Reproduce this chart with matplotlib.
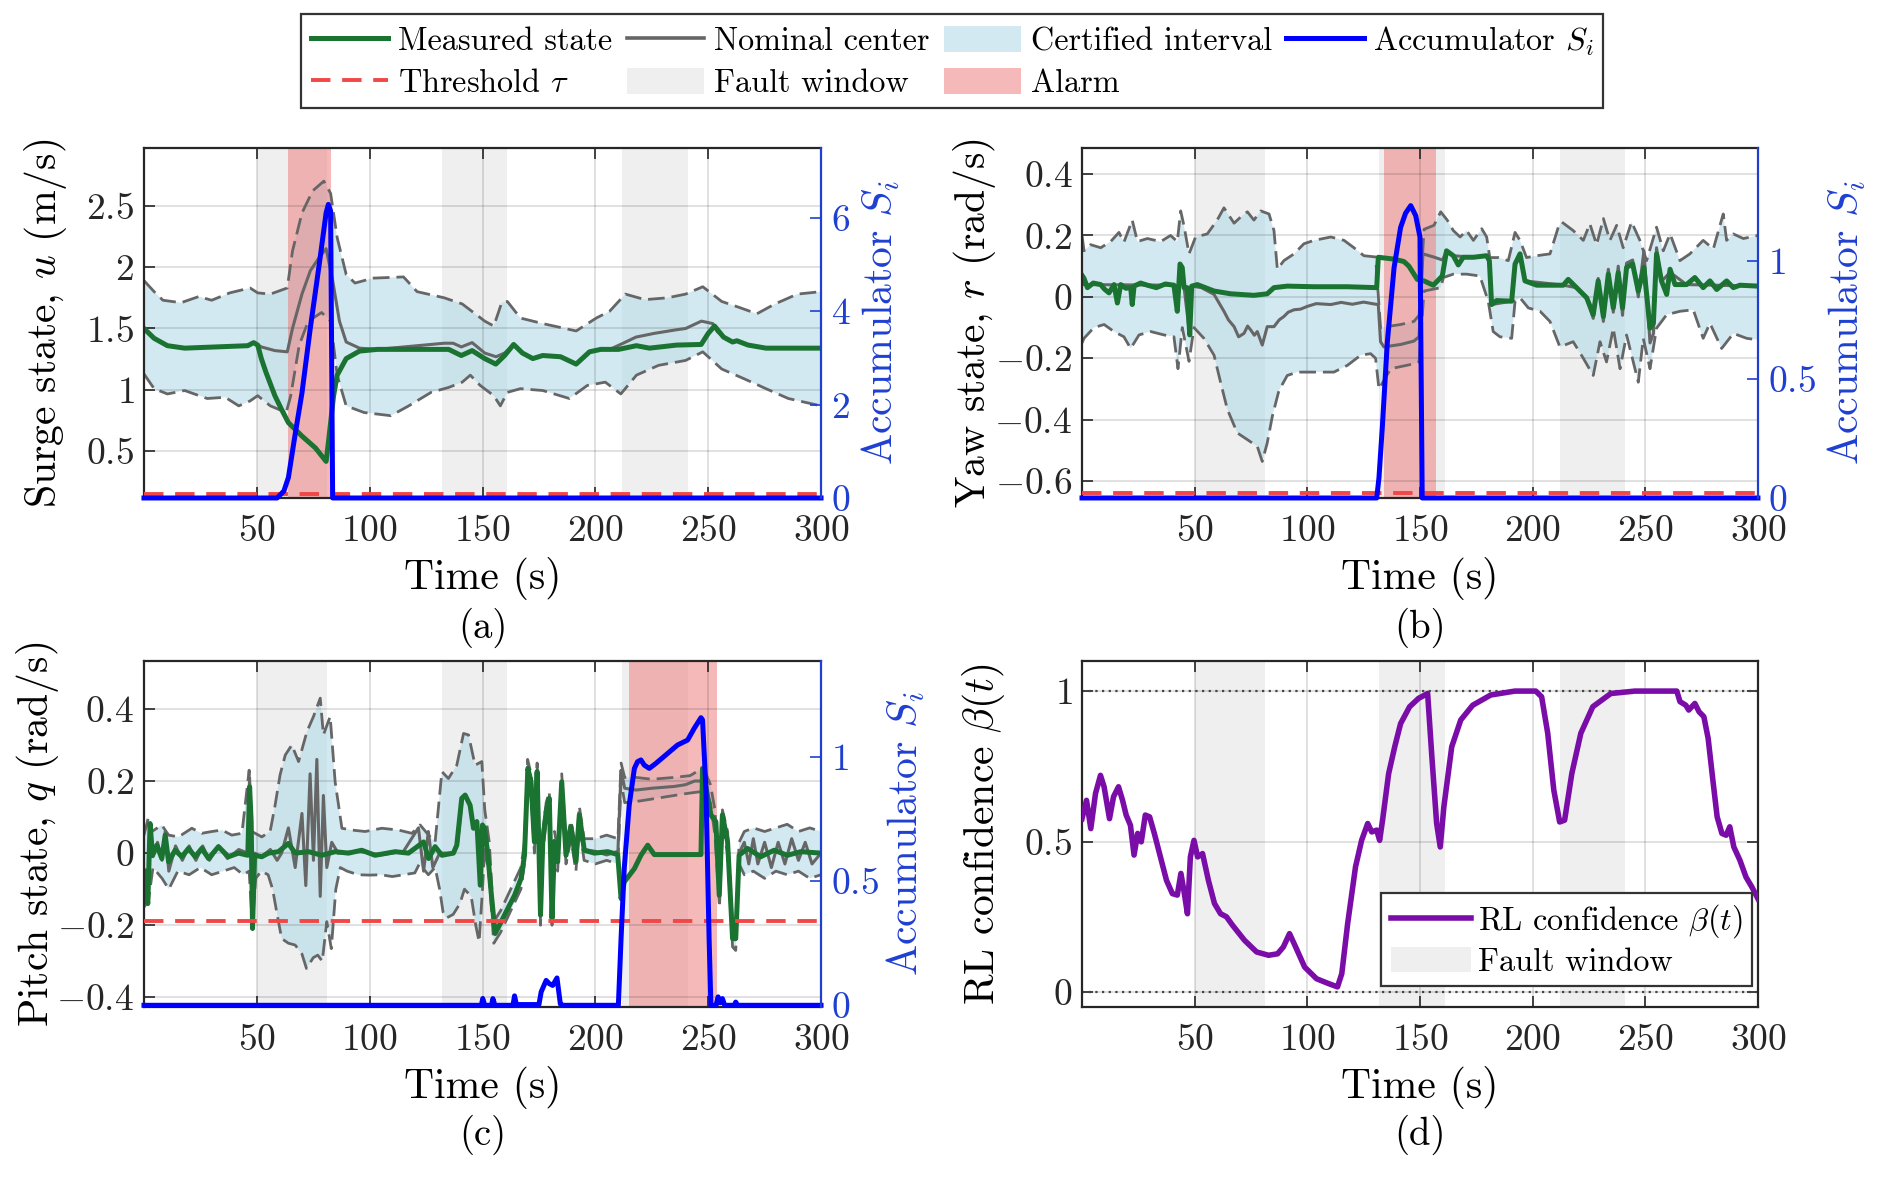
import numpy as np
import matplotlib
matplotlib.use("Agg")
import matplotlib.pyplot as plt
from matplotlib.ticker import FuncFormatter
from matplotlib.lines import Line2D
from matplotlib.patches import Patch

plt.rcParams["font.family"] = "serif"
plt.rcParams["font.serif"] = ["cmr10", "DejaVu Serif"]
plt.rcParams["mathtext.fontset"] = "cm"
plt.rcParams["axes.formatter.use_mathtext"] = True

# ---------------- data ----------------
fault_windows = [(50, 81), (132, 161), (212, 241)]
alarm_u = (64, 83)
alarm_r = (134, 157)
alarm_q = (215, 254)
tau = [0.09, 0.02, 0.34]   # threshold, accumulator units (a), (b), (c)

# (a) surge
t_u = [0, 4.5, 10.4, 18, 46, 48.6, 50.4, 52, 54, 58, 60.9, 64, 70, 76, 80.7, 81.7, 84, 85.6, 89.6, 95.5,
       103.4, 135, 140.6, 145.4, 151, 155.9, 159.8, 163.8, 167.7, 172.3, 176.7, 184.6, 191.5, 197.4, 202.4,
       210.3, 218.2, 224, 236, 246.9, 250, 252.8, 256.8, 260.8, 262.7, 267.7, 275.6, 300]
u_meas = [1.50, 1.42, 1.36, 1.34, 1.36, 1.385, 1.365, 1.255, 1.146, 0.953, 0.843, 0.733, 0.624, 0.527, 0.418,
          0.57, 0.95, 1.12, 1.255, 1.316, 1.33, 1.33, 1.28, 1.32, 1.255, 1.21, 1.28, 1.37, 1.30, 1.255, 1.28,
          1.27, 1.21, 1.31, 1.33, 1.33, 1.36, 1.34, 1.365, 1.37, 1.46, 1.52, 1.43, 1.39, 1.40, 1.365, 1.34, 1.34]
t_u_nom = [0, 4.5, 10.4, 18, 46, 48.6, 52, 58, 63.5, 65.8, 70, 73.7, 77.7, 80.7, 83.6, 86.6, 89.6, 95.5, 103.4,
           133, 137, 140.6, 145.4, 151, 156, 159.8, 163.8, 167.7, 172.3, 176.7, 184.6, 191.5, 197.4, 202.4,
           207, 212.3, 218, 226, 236, 240, 247, 252, 254, 256.8, 260.8, 262.7, 267.7, 275.6, 300]
u_nom = [1.50, 1.42, 1.36, 1.34, 1.36, 1.385, 1.35, 1.32, 1.31, 1.50, 1.78, 1.97, 2.08, 2.15, 1.89, 1.56, 1.39,
         1.34, 1.33, 1.38, 1.38, 1.35, 1.385, 1.30, 1.27, 1.30, 1.37, 1.30, 1.255, 1.28, 1.27, 1.21, 1.31, 1.33,
         1.335, 1.38, 1.43, 1.46, 1.49, 1.50, 1.56, 1.54, 1.475, 1.43, 1.39, 1.40, 1.365, 1.34, 1.34]
t_u_hi = [0, 4.5, 8.4, 16.4, 24.3, 30, 38, 47, 50.4, 56, 62, 63.5, 65.8, 70, 74.7, 79.7, 82.7, 85.6, 89.6, 93.5,
          101.5, 115, 121, 133, 141, 151, 155, 158.5, 161, 166.8, 176.7, 186.6, 191.5, 200.4, 206.3, 213.3, 222,
          232, 240, 247.6, 256, 264, 271.6, 279.6, 289.5, 300]
u_hi = [1.89, 1.80, 1.73, 1.71, 1.76, 1.73, 1.79, 1.83, 1.79, 1.78, 1.82, 1.83, 2.13, 2.44, 2.62, 2.70, 2.60,
        2.24, 1.94, 1.87, 1.91, 1.92, 1.80, 1.75, 1.70, 1.56, 1.52, 1.71, 1.72, 1.585, 1.54, 1.50, 1.48, 1.585,
        1.64, 1.78, 1.735, 1.75, 1.78, 1.84, 1.72, 1.67, 1.62, 1.70, 1.78, 1.80]
t_u_lo = [0, 4.5, 10.4, 18, 28, 36, 42, 47, 50.4, 56, 63, 65, 68.8, 72.8, 78.7, 82.7, 85.6, 89.6, 97.5, 109.4,
          117.3, 127.2, 135, 141, 144.6, 149, 155, 157.9, 161, 166.8, 176.7, 188.5, 196.4, 204.4, 211.3, 218.2,
          228, 240, 247.6, 256, 266, 275.6, 285.5, 300]
u_lo = [1.13, 1.01, 0.967, 0.995, 0.93, 0.94, 0.87, 0.91, 0.953, 0.87, 0.816, 0.95, 1.365, 1.56, 1.63, 1.56,
        1.12, 0.87, 0.816, 0.79, 0.87, 0.98, 1.02, 1.063, 1.12, 1.036, 0.953, 0.87, 0.98, 1.01, 0.995, 0.93,
        1.036, 1.063, 0.967, 1.12, 1.20, 1.24, 1.31, 1.17, 1.09, 1.01, 0.93, 0.87]
t_u_acc = [0, 59, 62, 64, 66.8, 70, 73.7, 77.7, 80.7, 81.7, 82.7, 83.6, 300]
u_acc = [0, 0, 0.15, 0.44, 1.31, 2.25, 3.64, 5.02, 6.11, 6.29, 6.15, 0, 0]

# (b) yaw
t_r = [0, 0.9, 2.4, 5, 8.3, 10, 12, 14.2, 15.7, 17.2, 19.5, 21.6, 22.3, 23.1, 26, 29, 33, 37, 40.8, 42.3, 43.5,
       44.5, 45.3, 46.7, 47.8, 48.7, 51.2, 58.6, 66, 76.3, 82.2, 85.2, 91.1, 103, 117.8, 130.8, 131.5, 138.5,
       142.9, 145.1, 148.8, 151.8, 155.9, 159.9, 161.8, 164.8, 167, 169.2, 173.7, 179.6, 180.8, 181.8, 184,
       190.7, 192.2, 194.4, 196.6, 201.8, 213.6, 215.8, 219.5, 224, 226.9, 229.1, 231.4, 233.6, 235.8, 238,
       239.9, 241.7, 244.4, 246.9, 249.4, 252.1, 253.6, 255, 257.2, 259.5, 261, 263.2, 268.3, 272, 275.7,
       278.7, 281.7, 286.1, 289.1, 292, 300]
r_meas = [0.07, 0.06, 0.03, 0.045, 0.04, 0.025, 0.013, 0.04, -0.02, 0.04, 0.028, 0.03, -0.025, 0.035, 0.045,
          0.038, 0.03, 0.042, 0.038, -0.047, 0.107, 0.095, 0.03, 0.03, -0.124, 0.035, 0.04, 0.019, 0.01, 0.005,
          0.01, 0.03, 0.035, 0.033, 0.033, 0.03, 0.129, 0.123, 0.115, 0.10, 0.057, 0.052, 0.038, 0.068, 0.15,
          0.134, 0.104, 0.129, 0.129, 0.134, 0.118, -0.025, -0.012, -0.014, 0.107, 0.14, 0.052, 0.038, 0.038,
          0.057, 0.03, -0.003, -0.058, 0.052, -0.064, 0.074, -0.036, 0.079, -0.036, 0.096, 0.107, 0.019, 0.096,
          -0.102, -0.086, 0.14, 0.052, 0.008, 0.09, 0.04, 0.04, 0.063, 0.03, 0.052, 0.024, 0.052, 0.03, 0.038,
          0.035]
t_r_nom = [0, 40.8, 42.3, 43.5, 45.3, 47.8, 48.7, 53, 58.6, 63, 65, 67.5, 69.5, 71.9, 73.5, 74.9, 76.5, 77.8,
           80, 82.2, 85.2, 87.5, 89.6, 91.5, 94.1, 97, 100, 104, 110.4, 115, 120, 125, 129.6, 131.5, 132.5, 134,
           141.4, 147.3, 149.6, 151.3, 156, 160, 161.8, 164.8, 173.7, 179.6, 180.8, 181.8, 190.7, 192.2, 194.4,
           196.6, 213.6, 219.5, 224, 226.9, 229.1, 231.4, 233.6, 235.8, 238, 239.9, 241.7, 244.4, 246.9, 249.4,
           252.1, 253.6, 255, 257.2, 261, 268.3, 300]
r_nom = [0.04, 0.038, -0.047, 0.107, 0.03, -0.124, 0.035, 0.03, 0.008, -0.047, -0.075, -0.097, -0.13, -0.119,
         -0.095, -0.108, -0.125, -0.113, -0.157, -0.097, -0.097, -0.075, -0.064, -0.05, -0.042, -0.04, -0.031,
         -0.022, -0.025, -0.018, -0.024, -0.017, -0.023, -0.025, -0.146, -0.163, -0.155, -0.144, -0.13, 0.14,
         0.13, 0.12, 0.15, 0.134, 0.129, 0.134, 0.118, -0.025, -0.014, 0.107, 0.14, 0.052, 0.038, 0.03, -0.003,
         -0.07, 0.06, -0.08, 0.09, -0.05, 0.1, -0.06, 0.11, 0.12, 0.0, 0.15, -0.15, -0.12, 0.16, 0.05, 0.08,
         0.04, 0.035]
t_r_hi = [0, 0.9, 3.8, 8.3, 12.7, 16.4, 18.6, 22.3, 24.6, 29, 34.9, 39.3, 42.3, 43.8, 45.3, 47.5, 50.4, 55.6,
          60, 63, 67.5, 70.4, 73.4, 76.3, 79.3, 83, 85.2, 86.7, 89.6, 94.1, 98.5, 103, 110.4, 116.3, 120.7,
          125.1, 130.3, 132.5, 141.4, 147.3, 149.6, 151.8, 156.2, 159.2, 162.1, 164.8, 167.8, 170.7, 173.7,
          177.4, 179.6, 181, 184.8, 189.2, 192.2, 194.4, 197.3, 201.8, 207.7, 211.4, 212.9, 218, 222.5, 225.4,
          228.4, 231.4, 234.3, 237.3, 240.2, 243.9, 247.6, 250.6, 255, 258, 261, 265.4, 269.8, 275.7, 280.2,
          284.6, 286.1, 289.1, 293.5, 300]
r_hi = [0.20, 0.15, 0.17, 0.16, 0.18, 0.21, 0.178, 0.25, 0.18, 0.19, 0.18, 0.20, 0.18, 0.28, 0.23, 0.14, 0.195,
        0.205, 0.25, 0.29, 0.24, 0.26, 0.277, 0.25, 0.28, 0.27, 0.216, 0.09, 0.118, 0.14, 0.173, 0.184, 0.195,
        0.184, 0.16, 0.134, 0.13, -0.10, -0.09, -0.08, -0.06, 0.22, 0.233, 0.277, 0.25, 0.216, 0.195, 0.216,
        0.184, 0.222, 0.195, 0.128, 0.128, 0.118, 0.21, 0.184, 0.128, 0.134, 0.14, 0.227, 0.244, 0.216, 0.184,
        0.238, 0.17, 0.255, 0.184, 0.233, 0.16, 0.244, 0.184, 0.118, 0.227, 0.15, 0.205, 0.118, 0.14, 0.184,
        0.156, 0.27, 0.184, 0.205, 0.19, 0.20]
t_r_lo = [0, 0.9, 5.3, 9.8, 14.2, 18.6, 21.6, 25.3, 30.5, 36.4, 40.8, 42.6, 44.5, 47.5, 49.7, 54.1, 58.6, 61.5,
          64.5, 68.9, 73.4, 77.8, 80, 82.2, 84.5, 87.4, 91.1, 95.6, 103, 111.8, 117.8, 123.7, 128.1, 130.3,
          131.8, 137, 147.3, 149.6, 151.8, 159.2, 160.4, 164.8, 170.7, 176.6, 180.3, 182.5, 185.5, 190.7, 192.2,
          194.4, 198.1, 203.3, 207.7, 212.1, 218, 222.5, 226.9, 229.9, 232.8, 235.8, 238.8, 241.7, 246.9, 249.1,
          252.1, 255, 259.5, 265.4, 271.3, 275.7, 278.7, 283.9, 289.1, 295, 300]
r_lo = [-0.15, -0.135, -0.10, -0.09, -0.113, -0.13, -0.168, -0.124, -0.113, -0.124, -0.13, -0.234, -0.10,
        -0.21, -0.10, -0.135, -0.19, -0.278, -0.366, -0.443, -0.465, -0.487, -0.536, -0.476, -0.388, -0.305,
        -0.256, -0.245, -0.245, -0.245, -0.223, -0.19, -0.185, -0.20, -0.30, -0.234, -0.218, -0.212, 0.019,
        0.03, 0.063, 0.074, 0.074, 0.068, -0.014, -0.113, -0.13, -0.135, -0.014, -0.003, -0.036, -0.047, -0.08,
        -0.163, -0.146, -0.20, -0.256, -0.146, -0.212, -0.102, -0.234, -0.124, -0.278, -0.135, -0.234, -0.102,
        -0.058, -0.047, -0.042, -0.135, -0.086, -0.168, -0.119, -0.135, -0.14]
t_r_acc = [0, 130.8, 131.8, 133.3, 135.5, 138.5, 141.4, 143.6, 145.9, 148.1, 150, 151, 300]
r_acc = [0, 0, 0.085, 0.30, 0.655, 0.97, 1.14, 1.20, 1.232, 1.19, 1.10, 0, 0]

# (c) pitch
t_q = [0, 0.8, 1.7, 2.7, 3.8, 5.7, 7.9, 9.4, 10.9, 13.8, 16.8, 19.7, 22.7, 25.6, 28.6, 33, 37.4, 41.9, 46,
       46.8, 47.5, 48.1, 49, 52.2, 55.2, 59.6, 64, 67, 72.9, 78.8, 84.7, 90.6, 96.5, 102.4, 111.3, 117.2,
       123.9, 126.1, 129, 132, 137.1, 138.6, 140.8, 142.3, 144.5, 146, 147.5, 149, 150, 150.9, 152.4, 153.8,
       155.6, 158.3, 161.2, 164.2, 167.1, 168.6, 170.1, 171.5, 173, 174.2, 175.7, 176.7, 178.2, 179.6, 180.8,
       181.9, 183.3, 185.1, 187, 189.2, 191.4, 192.9, 195.1, 199.6, 205.5, 209.9, 211.4, 212.8, 217.3, 220.2,
       223.2, 226.1, 237.9, 246.8, 247.5, 248.5, 251.2, 253.4, 254.9, 256.3, 258.6, 260.8, 262.2, 263.7,
       267.4, 273.3, 279.2, 285.1, 291, 300]
q_meas = [-0.05, -0.098, -0.14, 0.082, -0.006, 0.022, -0.015, 0.05, -0.024, 0.008, -0.01, 0.013, -0.01, 0.013,
          -0.015, 0.018, -0.01, 0.0, -0.006, 0.184, 0.087, -0.209, -0.006, -0.01, 0.0, 0.004, 0.027, 0.0,
          0.004, -0.006, 0.004, 0.0, 0.008, -0.006, 0.004, 0.0, 0.031, -0.015, 0.018, -0.006, 0.0, 0.022,
          0.152, 0.161, 0.133, 0.069, 0.087, -0.089, 0.078, 0.069, -0.006, -0.107, -0.223, -0.19, -0.154,
          -0.117, -0.07, -0.006, 0.235, 0.198, 0.031, 0.226, -0.172, 0.031, 0.115, 0.152, -0.181, 0.031,
          -0.024, 0.198, -0.006, 0.073, -0.024, 0.106, 0.008, 0.0, 0.004, -0.004, -0.126, -0.08, -0.043,
          -0.006, 0.022, -0.004, -0.004, -0.004, 0.235, 0.2, 0.106, 0.087, -0.117, 0.106, 0.031, -0.237,
          -0.237, -0.006, 0.013, -0.01, 0.008, -0.006, 0.004, 0.0]
t_q_nom = [0, 1.7, 2.7, 4, 6, 8, 9.4, 11, 14, 17, 20, 23, 26, 29, 33, 37, 42, 46, 46.8, 48.1, 49, 52, 56, 59,
           61, 64, 67, 70, 71.7, 73.6, 75.1, 76.6, 78.1, 79.5, 81, 83.2, 86, 95, 105, 115, 121.6, 123.9, 126,
           128, 131, 137, 139, 141, 142.3, 144.5, 146, 147.5, 149, 150, 152.4, 153.8, 155.6, 158.3, 161.2,
           164.2, 167.1, 168.6, 170.1, 171.5, 173, 174.2, 175.7, 176.7, 178.2, 179.6, 180.8, 181.9, 183.3,
           185.1, 187, 189.2, 191.4, 192.9, 195.1, 200, 205, 210, 211.4, 213, 218, 225, 235, 240, 244, 247,
           249, 251.2, 253.4, 254.9, 256.3, 258.6, 260.8, 262.2, 263.7, 266, 268, 270, 272, 275, 278, 281,
           284, 287, 290, 293, 296, 300]
q_nom = [-0.05, -0.14, 0.08, -0.01, 0.03, -0.02, 0.06, -0.05, 0.02, -0.02, 0.02, -0.02, 0.02, -0.02, 0.02,
         -0.015, 0.01, 0.0, 0.21, -0.21, 0.0, -0.01, 0.01, -0.02, 0.0, 0.07, -0.04, 0.11, -0.09, 0.22, -0.02,
         0.26, -0.12, 0.16, -0.04, 0.03, 0.0, 0.005, -0.005, 0.005, 0.07, -0.05, 0.06, -0.04, 0.0, 0.0, 0.03,
         0.15, 0.16, 0.13, 0.07, 0.09, -0.09, 0.08, 0.0, -0.1, -0.22, -0.19, -0.15, -0.12, -0.07, 0.0, 0.24,
         0.2, 0.03, 0.23, -0.17, 0.03, 0.12, 0.15, -0.18, 0.03, -0.02, 0.2, 0.0, 0.07, -0.02, 0.1, 0.01, 0.005,
         -0.005, 0.005, 0.23, 0.18, 0.175, 0.18, 0.185, 0.19, 0.2, 0.2, 0.19, 0.11, 0.09, -0.12, 0.1, 0.03,
         -0.24, -0.24, 0.0, 0.03, -0.03, 0.04, -0.03, 0.03, -0.04, 0.03, -0.03, 0.04, -0.02, 0.03, -0.03, 0.0]
t_q_hi = [0, 2, 3.5, 7.9, 10.9, 15.3, 21.2, 25.6, 30.1, 34.5, 38.9, 43.4, 46.6, 47.8, 52.2, 55.9, 58.1, 60.3,
          62.6, 65.5, 68.5, 72.2, 75.1, 78.1, 79.5, 82.5, 84.7, 87.7, 92.1, 98, 105.4, 112.8, 118.7, 122.4,
          126.1, 129, 132, 134.9, 138.6, 141.6, 143.8, 146.7, 149.7, 151, 153, 155, 158, 161, 164, 167, 168.6,
          170, 171.5, 173, 174.2, 175.7, 176.7, 178.2, 179.6, 180.8, 181.9, 183.3, 185.1, 187, 189.2, 191.4,
          192.9, 195, 200, 205, 210, 211.4, 213, 218, 225, 235, 242, 246, 249, 251, 253, 255, 256.3, 258.6,
          260.8, 262.2, 263.7, 266, 270, 275, 280, 285, 290, 295, 300]
q_hi = [0.05, 0.1, 0.06, 0.078, 0.05, 0.045, 0.069, 0.055, 0.06, 0.064, 0.05, 0.055, 0.23, 0.06, 0.045, 0.06,
        0.133, 0.217, 0.272, 0.30, 0.254, 0.337, 0.379, 0.43, 0.328, 0.379, 0.198, 0.069, 0.064, 0.06, 0.069,
        0.064, 0.055, 0.078, 0.05, 0.031, 0.226, 0.207, 0.244, 0.332, 0.328, 0.244, 0.254, 0.12, 0.03, -0.19,
        -0.16, -0.12, -0.08, -0.04, 0.03, 0.26, 0.22, 0.06, 0.25, -0.14, 0.06, 0.14, 0.17, -0.15, 0.06, 0.01,
        0.22, 0.03, 0.09, 0.01, 0.13, 0.04, 0.04, 0.05, 0.04, 0.25, 0.21, 0.21, 0.205, 0.21, 0.215, 0.23,
        0.22, 0.19, 0.12, -0.09, 0.12, 0.06, -0.2, -0.21, 0.03, 0.06, 0.07, 0.06, 0.07, 0.08, 0.06, 0.07, 0.06]
t_q_lo = [0, 2, 4, 8, 11, 15, 20, 25, 30, 35, 40, 44, 46.6, 48, 49.5, 52, 55, 57, 59, 61, 64, 67, 70, 72, 75,
          77, 79, 81, 83, 85, 87, 90, 95, 100, 105, 110, 115, 120, 122, 126, 129, 131, 132.5, 134, 137, 140,
          142, 145, 147, 148.5, 150, 151, 153, 155, 158, 161, 164, 167, 168.6, 170, 171.5, 173, 174.2, 175.7,
          176.7, 178.2, 179.6, 180.8, 181.9, 183.3, 185.1, 187, 189.2, 191.4, 192.9, 195, 200, 205, 210, 211.4,
          213, 220, 230, 240, 246, 249, 251, 253, 255, 256.3, 258.6, 260.8, 262.2, 263.7, 266, 270, 275, 280,
          285, 290, 295, 300]
q_lo = [-0.15, -0.13, -0.04, -0.07, -0.1, -0.05, -0.06, -0.04, -0.06, -0.05, -0.04, -0.06, -0.05, -0.2, -0.07,
        -0.05, -0.06, -0.1, -0.17, -0.237, -0.25, -0.255, -0.28, -0.32, -0.29, -0.283, -0.3, -0.19, -0.265,
        -0.1, -0.04, -0.05, -0.06, -0.061, -0.06, -0.065, -0.06, -0.055, -0.03, -0.06, -0.04, -0.1, -0.163,
        -0.18, -0.17, -0.14, -0.1, -0.12, -0.2, -0.246, -0.1, 0.02, -0.07, -0.25, -0.22, -0.18, -0.14, -0.1,
        -0.03, 0.2, 0.17, 0.0, 0.2, -0.2, 0.0, 0.09, 0.12, -0.2, 0.0, -0.05, 0.17, -0.03, 0.04, -0.05, 0.08,
        -0.02, -0.03, -0.02, -0.03, 0.2, 0.14, 0.145, 0.155, 0.165, 0.17, 0.17, 0.14, 0.05, -0.15, 0.07, 0.0,
        -0.26, -0.27, -0.03, -0.06, -0.05, -0.07, -0.05, -0.06, -0.05, -0.07, -0.06]
t_q_acc = [0, 149.5, 150.1, 151, 154, 154.6, 155.5, 163.5, 164.2, 165, 175, 176, 178.2, 179.6, 181.1, 183,
           184.5, 185.5, 210.2, 211.4, 212.8, 215, 217.3, 218.7, 220.2, 221.7, 223.9, 226.8, 232, 236.4, 240.9,
           243.8, 246.8, 247.5, 249, 250.4, 251.2, 253.5, 254.4, 255.3, 256.3, 257.3, 261.5, 262.2, 263, 300]
q_acc = [0, 0, 0.027, 0, 0, 0.027, 0, 0, 0.038, 0.003, 0.003, 0.054, 0.1, 0.087, 0.08, 0.11, 0.005, 0, 0,
         0.27, 0.55, 0.805, 0.953, 0.98, 0.987, 0.966, 0.953, 0.973, 1.013, 1.047, 1.067, 1.114, 1.157, 1.148,
         0.87, 0.27, 0, 0, 0.034, 0.01, 0.027, 0, 0, 0.013, 0, 0]

# (d) RL confidence
t_beta = [0, 2, 3.9, 6, 8.2, 9.8, 12.2, 14, 16.2, 18, 19.6, 21.5, 23.1, 24.7, 26.3, 28.1, 30, 32.1, 34.8,
          37.5, 40.1, 42.3, 43.9, 45.2, 46.8, 48.1, 49.7, 51.3, 53.5, 56.1, 58.8, 61.5, 64.1, 66.8, 72.1, 77.5,
          82.8, 86.8, 89.4, 92.1, 94.8, 98.8, 104.1, 109.4, 113.4, 115.3, 117.9, 121.4, 124.1, 126.8, 128.6,
          130.8, 132.1, 133.4, 136.1, 138.8, 141.4, 145.4, 149.4, 153.4, 155.3, 157.4, 159, 160.6, 164.1,
          168.1, 173.4, 181.4, 192.1, 201.4, 204, 206.7, 209.4, 212, 214.2, 217.4, 221.4, 226.7, 234.7, 245.4,
          264, 265.4, 268, 269.3, 272, 273.9, 276, 277.9, 280, 281.9, 284, 285.9, 287.5, 289.3, 292, 294.7,
          297.3, 300]
beta = [0.576, 0.637, 0.543, 0.66, 0.72, 0.682, 0.576, 0.649, 0.682, 0.637, 0.588, 0.554, 0.455, 0.527, 0.499,
        0.588, 0.582, 0.527, 0.449, 0.371, 0.327, 0.322, 0.394, 0.338, 0.26, 0.449, 0.504, 0.449, 0.46, 0.371,
        0.294, 0.26, 0.25, 0.222, 0.172, 0.133, 0.122, 0.127, 0.15, 0.194, 0.15, 0.083, 0.044, 0.028, 0.017,
        0.061, 0.227, 0.416, 0.504, 0.56, 0.532, 0.538, 0.504, 0.571, 0.726, 0.815, 0.892, 0.948, 0.976, 0.992,
        0.78, 0.56, 0.482, 0.615, 0.815, 0.904, 0.953, 0.987, 1.0, 1.0, 0.981, 0.86, 0.671, 0.565, 0.571,
        0.726, 0.86, 0.948, 0.992, 1.0, 1.0, 0.965, 0.953, 0.937, 0.959, 0.931, 0.915, 0.843, 0.704, 0.582,
        0.527, 0.521, 0.549, 0.482, 0.438, 0.382, 0.349, 0.31]

# ---------------- styling ----------------
GREEN = "#1b7332"
GRAY = "#666666"
FILL_C, FILL_A = "#add8e6", 0.55
FAULT_C = "#efefef"
ALARM_C, ALARM_A = "#f08080", 0.55
ACC_C = "#0000ff"
AXBLUE = "#1f3fd1"
THR_C = "#f24747"
PURPLE = "#7a0da8"
DARK = "#262626"
TICK_FS = 13.5
LAB_FS = 15
LEG_FS = 11.6

fmt = FuncFormatter(lambda v, p: f"${v:g}$")


def base_style(ax):
    ax.set_xlim(0, 300)
    ax.set_xticks([50, 100, 150, 200, 250, 300])
    ax.xaxis.set_major_formatter(fmt)
    ax.yaxis.set_major_formatter(fmt)
    ax.tick_params(direction="in", length=4, width=0.6, labelsize=TICK_FS, top=True, colors=DARK)
    ax.tick_params(axis="x", pad=6)
    ax.grid(True, color="k", alpha=0.12, lw=0.7)
    ax.set_axisbelow("line")
    for s in ax.spines.values():
        s.set_color(DARK)
        s.set_linewidth(0.8)
    ax.set_xlabel("Time (s)", fontsize=LAB_FS)
    ax.xaxis.set_label_coords(0.5, -0.17)


def state_panel(ax, t_m, m, t_n, n, t_hi, hi, t_lo, lo, t_acc, acc, thr, alarm,
                ylim, yticks, rlim, rticks, ylabel, tag, ylx, rlx):
    base_style(ax)
    for a, b in fault_windows:
        ax.axvspan(a, b, color=FAULT_C, lw=0, zorder=0.5)
    ax.fill(np.concatenate([t_hi, t_lo[::-1]]), np.concatenate([hi, lo[::-1]]),
            color=FILL_C, alpha=FILL_A, lw=0, zorder=1)
    ax.axvspan(alarm[0], alarm[1], color=ALARM_C, alpha=ALARM_A, lw=0, zorder=1.2)
    ax.plot(t_hi, hi, color=GRAY, lw=1.0, dashes=(6, 2.5), zorder=2)
    ax.plot(t_lo, lo, color=GRAY, lw=1.0, dashes=(6, 2.5), zorder=2)
    ax.plot(t_n, n, color=GRAY, lw=1.1, zorder=2.2)
    ax.plot(t_m, m, color=GREEN, lw=1.8, zorder=2.5)
    ax.set_ylim(*ylim)
    ax.set_yticks(yticks)
    ax.set_ylabel(ylabel, fontsize=LAB_FS)
    ax.yaxis.set_label_coords(ylx, 0.5)
    ax.spines["right"].set_visible(False)
    ax.text(0.5, -0.37, tag, transform=ax.transAxes, ha="center", va="center", fontsize=14)

    ax2 = ax.twinx()
    ax2.axhline(thr, color=THR_C, lw=1.4, dashes=(5, 3))
    ax2.plot(t_acc, acc, color=ACC_C, lw=1.8, clip_on=False)
    ax2.set_ylim(*rlim)
    ax2.set_yticks(rticks)
    ax2.yaxis.set_major_formatter(fmt)
    ax2.tick_params(direction="in", length=4, width=0.6, labelsize=TICK_FS, colors=AXBLUE)
    for k in ("left", "top", "bottom"):
        ax2.spines[k].set_visible(False)
    ax2.spines["right"].set_color(AXBLUE)
    ax2.spines["right"].set_linewidth(0.8)
    ax2.set_ylabel("Accumulator $S_i$", fontsize=LAB_FS, color=AXBLUE)
    ax2.yaxis.set_label_coords(rlx, 0.5)
    return ax2


fig = plt.figure(figsize=(9.435, 5.885), dpi=200)
ax_a = fig.add_axes([0.0763, 0.5769, 0.3588, 0.2974])
ax_b = fig.add_axes([0.5734, 0.5769, 0.3582, 0.2974])
ax_c = fig.add_axes([0.0763, 0.1444, 0.3588, 0.2940])
ax_d = fig.add_axes([0.5734, 0.1444, 0.3582, 0.2940])

A = np.asarray
state_panel(ax_a, A(t_u), A(u_meas), A(t_u_nom), A(u_nom), A(t_u_hi), A(u_hi), A(t_u_lo), A(u_lo),
            A(t_u_acc), A(u_acc), tau[0], alarm_u, (0.12, 2.97), [0.5, 1, 1.5, 2, 2.5],
            (0, 7.5), [0, 2, 4, 6], "Surge state, $u$ (m/s)", "(a)", -0.111, 1.058)
state_panel(ax_b, A(t_r), A(r_meas), A(t_r_nom), A(r_nom), A(t_r_hi), A(r_hi), A(t_r_lo), A(r_lo),
            A(t_r_acc), A(r_acc), tau[1], alarm_r, (-0.655, 0.485), [-0.6, -0.4, -0.2, 0, 0.2, 0.4],
            (0, 1.475), [0, 0.5, 1], "Yaw state, $r$ (rad/s)", "(b)", -0.124, 1.10)
state_panel(ax_c, A(t_q), A(q_meas), A(t_q_nom), A(q_nom), A(t_q_hi), A(q_hi), A(t_q_lo), A(q_lo),
            A(t_q_acc), A(q_acc), tau[2], alarm_q, (-0.427, 0.533), [-0.4, -0.2, 0, 0.2, 0.4],
            (-0.007, 1.385), [0, 0.5, 1], "Pitch state, $q$ (rad/s)", "(c)", -0.123, 1.095)

# (d)
base_style(ax_d)
ax_d.tick_params(right=True)
for a, b in fault_windows:
    ax_d.axvspan(a, b, color=FAULT_C, lw=0, zorder=0.5)
ax_d.axhline(0, color="#444444", lw=0.8, ls=(0, (1, 2)), zorder=1.6)
ax_d.axhline(1, color="#444444", lw=0.8, ls=(0, (1, 2)), zorder=1.6)
ax_d.plot(t_beta, beta, color=PURPLE, lw=2.0, zorder=3)
ax_d.set_ylim(-0.05, 1.1)
ax_d.set_yticks([0, 0.5, 1])
ax_d.set_ylabel(r"RL confidence $\beta(t)$", fontsize=LAB_FS)
ax_d.yaxis.set_label_coords(-0.111, 0.5)
ax_d.text(0.5, -0.37, "(d)", transform=ax_d.transAxes, ha="center", va="center", fontsize=14)
leg_d = ax_d.legend(handles=[Line2D([], [], color=PURPLE, lw=2.0),
                             Patch(facecolor=FAULT_C, edgecolor="none")],
                    labels=[r"RL confidence $\beta(t)$", "Fault window"],
                    loc="lower right", bbox_to_anchor=(0.991, 0.06), borderaxespad=0, fontsize=LEG_FS,
                    fancybox=False, edgecolor="#333333", framealpha=1,
                    handlelength=2.5, handleheight=0.85, handletextpad=0.2, labelspacing=0.2, borderpad=0.3)
leg_d.get_frame().set_linewidth(0.8)

# shared legend on top
handles = [Line2D([], [], color=GREEN, lw=1.8),
           Line2D([], [], color=THR_C, lw=1.4, dashes=(5, 3)),
           Line2D([], [], color=GRAY, lw=1.3),
           Patch(facecolor=FAULT_C, edgecolor="none"),
           Patch(facecolor=FILL_C, alpha=FILL_A, edgecolor="none"),
           Patch(facecolor=ALARM_C, alpha=ALARM_A, edgecolor="none"),
           Line2D([], [], color=ACC_C, lw=1.8)]
labels = ["Measured state", r"Threshold $\tau$", "Nominal center", "Fault window",
          "Certified interval", "Alarm", "Accumulator $S_i$"]
leg = fig.legend(handles, labels, ncol=4, loc="center", bbox_to_anchor=(0.5047, 0.948), fontsize=LEG_FS,
                 fancybox=False, edgecolor="#333333", framealpha=1, handlelength=2.4, handleheight=0.85,
                 handletextpad=0.3, columnspacing=0.45, labelspacing=0.38, borderpad=0.3)
leg.get_frame().set_linewidth(0.8)

fig.savefig("out.png", dpi=200)
